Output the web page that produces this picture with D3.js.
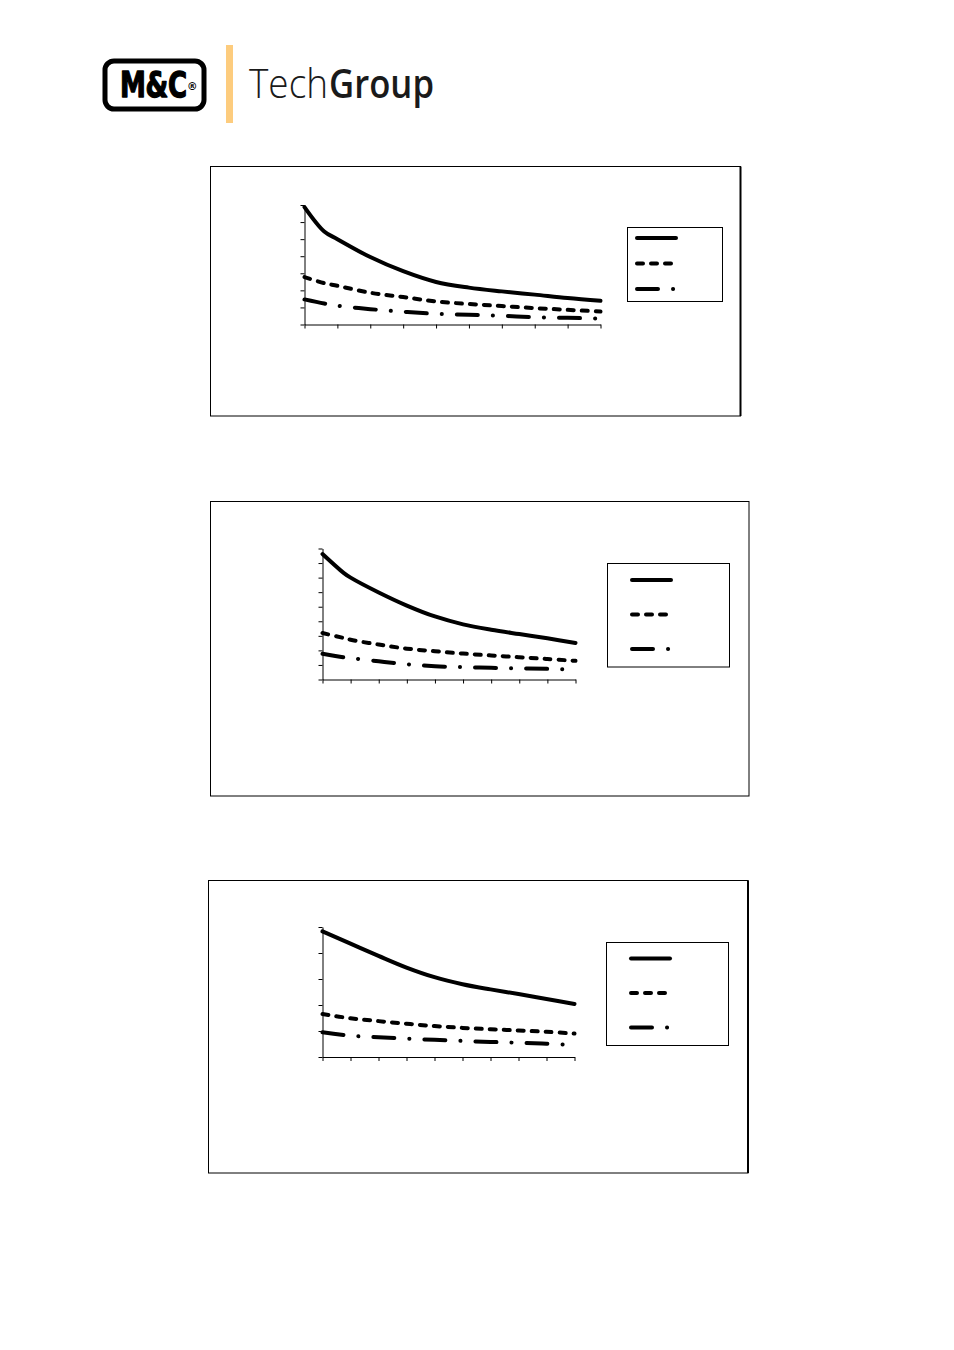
<!DOCTYPE html>
<html>
<head>
<meta charset="utf-8">
<script src="https://cdn.jsdelivr.net/npm/d3@7/dist/d3.min.js"></script>
<style>
  html, body { margin: 0; padding: 0; background: #fff; }
  svg { display: block; }
</style>
</head>
<body>
<div id="page"></div>
<script>
// ---------------- DATA ----------------
// Chart 1 (x positions on the category axis, 0..9 = tick marks)
const xValues1 = [0, 0.6, 1, 2, 3, 4, 5, 6, 7, 8, 9];
const solid1   = [6.88, 5.45, 5.00, 3.95, 3.12, 2.49, 2.16, 1.94, 1.75, 1.55, 1.39];
const dashed1  = [2.78, 2.42, 2.27, 1.86, 1.61, 1.35, 1.20, 1.08, 0.96, 0.86, 0.76];
const dashdot1 = [1.47, 1.23, 1.10, 0.90, 0.75, 0.63, 0.57, 0.51, 0.43, 0.39, 0.35];
const yTicks1  = [0, 1, 2, 3, 4, 5, 6, 7];

// Chart 2
const xValues2 = [0, 0.75, 1, 2, 3, 4, 5, 6, 7, 8, 9];
const solid2   = [8.62, 7.33, 7.00, 5.98, 5.08, 4.33, 3.79, 3.42, 3.12, 2.83, 2.51];
const dashed2  = [3.19, 2.85, 2.73, 2.40, 2.12, 1.94, 1.78, 1.65, 1.53, 1.41, 1.28];
const dashdot2 = [1.77, 1.52, 1.47, 1.25, 1.05, 0.91, 0.85, 0.80, 0.76, 0.73, 0.67];
const yTicks2  = [0, 1, 2, 3, 4, 5, 6, 7, 8, 9];

// Chart 3
const xValues3 = [0, 1, 2, 3, 4, 5, 6, 7, 8, 9];
const solid3   = [4.83, 4.36, 3.89, 3.44, 3.07, 2.80, 2.60, 2.42, 2.23, 2.04];
const dashed3  = [1.65, 1.49, 1.38, 1.28, 1.19, 1.12, 1.07, 1.02, 0.97, 0.90];
const dashdot3 = [0.95, 0.82, 0.76, 0.71, 0.66, 0.62, 0.58, 0.55, 0.51, 0.46];
const yTicks3  = [0, 1, 2, 3, 4, 5];

const xTicks = [0, 1, 2, 3, 4, 5, 6, 7, 8, 9];

// Logo texts
const logoMark = "M&C";
const logoReg = "®";
const brandLight = "Tech";
const brandBold = "Group";

// ---------------- STYLES / LAYOUT ----------------
const lineStyles = [
  { dash: null, cap: "round" },
  { dash: "6,8", cap: "round" },
  { dash: "21,15,0.1,15", cap: "round" }
];

const layouts = [
  { frame: {x: 210.5, y: 166.5, w: 530, h: 249.5}, rightBorder: 2,
    plot: {l: 304.5, t: 205, r: 600.5, b: 324.5},
    legend: {x: 627.5, y: 227.5, w: 95, h: 74, lx: 637, rows: [238, 263.5, 289], lens: [39, 34, 37]} },
  { frame: {x: 210.5, y: 501.5, w: 538.5, h: 294.5}, rightBorder: 1,
    plot: {l: 322.5, t: 548.5, r: 575.5, b: 679.5},
    legend: {x: 607.5, y: 563.5, w: 122, h: 103.5, lx: 632, rows: [580, 614.5, 649], lens: [39, 34, 37]} },
  { frame: {x: 208.5, y: 880.5, w: 539.5, h: 292.5}, rightBorder: 2,
    plot: {l: 322.5, t: 927, r: 574.5, b: 1057},
    legend: {x: 606.5, y: 942.5, w: 122, h: 103, lx: 631, rows: [958.5, 993, 1027.5], lens: [39, 34, 37]} }
];

const charts = [
  { x: xValues1, series: [solid1, dashed1, dashdot1], yTicks: yTicks1 },
  { x: xValues2, series: [solid2, dashed2, dashdot2], yTicks: yTicks2 },
  { x: xValues3, series: [solid3, dashed3, dashdot3], yTicks: yTicks3 }
];

// ---------------- DRAW ----------------
const svg = d3.select("#page").append("svg")
  .attr("width", 954).attr("height", 1350)
  .attr("viewBox", "0 0 954 1350");

svg.append("rect").attr("width", 954).attr("height", 1350).attr("fill", "#fff");

// Logo
const logo = svg.append("g");
logo.append("rect")
  .attr("x", 105).attr("y", 61).attr("width", 99).attr("height", 48)
  .attr("rx", 9).attr("ry", 9)
  .attr("fill", "#fff").attr("stroke", "#000").attr("stroke-width", 5);
logo.append("text")
  .attr("transform", "translate(120,97) scale(1,1.35)")
  .attr("font-family", "DejaVu Sans").attr("font-weight", "bold")
  .attr("fill", "#000")
  .attr("font-size", 26)
  .attr("letter-spacing", -0.3)
  .attr("stroke", "#000").attr("stroke-width", 1).attr("stroke-linejoin", "round")
  .text(logoMark);
logo.append("text")
  .attr("x", 187).attr("y", 90)
  .attr("font-family", "DejaVu Sans").attr("font-weight", "bold")
  .attr("font-size", 10.5).attr("fill", "#000")
  .text(logoReg);
logo.append("rect")
  .attr("x", 226).attr("y", 45).attr("width", 7).attr("height", 78)
  .attr("fill", "#FDCC7E");
const brand = logo.append("text")
  .attr("x", 249).attr("y", 98)
  .attr("font-family", "Open Sans")
  .attr("font-size", 40).attr("fill", "#1a1a1a");
brand.append("tspan")
  .attr("font-weight", 300)
  .attr("textLength", 79).attr("lengthAdjust", "spacingAndGlyphs")
  .text(brandLight);
brand.append("tspan")
  .attr("x", 329)
  .attr("font-weight", 600)
  .attr("textLength", 105).attr("lengthAdjust", "spacingAndGlyphs")
  .text(brandBold);

charts.forEach((c, i) => {
  const L = layouts[i];
  const g = svg.append("g");

  // frame
  g.append("rect")
    .attr("x", L.frame.x).attr("y", L.frame.y)
    .attr("width", L.frame.w).attr("height", L.frame.h)
    .attr("fill", "#fff").attr("stroke", "#000").attr("stroke-width", 1);
  if (L.rightBorder > 1) {
    g.append("line")
      .attr("x1", L.frame.x + L.frame.w).attr("x2", L.frame.x + L.frame.w)
      .attr("y1", L.frame.y).attr("y2", L.frame.y + L.frame.h)
      .attr("stroke", "#000").attr("stroke-width", L.rightBorder);
  }

  const x = d3.scaleLinear().domain([0, 9]).range([L.plot.l, L.plot.r]);
  const yMax = c.yTicks[c.yTicks.length - 1];
  const y = d3.scaleLinear().domain([0, yMax]).range([L.plot.b, L.plot.t]);

  // axes
  const yAxis = d3.axisLeft(y).tickValues(c.yTicks).tickFormat("").tickSize(4).tickSizeOuter(0);
  const xAxis = d3.axisBottom(x).tickValues(xTicks).tickFormat("").tickSize(4).tickSizeOuter(0);
  const ya = g.append("g").attr("transform", `translate(${L.plot.l},0)`).call(yAxis);
  const xa = g.append("g").attr("transform", `translate(0,${L.plot.b})`).call(xAxis);
  [ya, xa].forEach(a => {
    a.selectAll("path").attr("stroke", "#000").attr("stroke-width", 1);
    a.selectAll("line").attr("stroke", "#000").attr("stroke-width", 1);
  });

  // lines
  const line = d3.line()
    .x(d => x(d[0])).y(d => y(d[1]))
    .curve(d3.curveCatmullRom.alpha(0.5));

  c.series.forEach((s, k) => {
    const pts = c.x.map((xv, j) => [xv, s[j]]);
    const p = g.append("path")
      .attr("d", line(pts))
      .attr("fill", "none").attr("stroke", "#000")
      .attr("stroke-width", 4).attr("stroke-linejoin", "round")
      .attr("stroke-linecap", lineStyles[k].cap);
    if (lineStyles[k].dash) p.attr("stroke-dasharray", lineStyles[k].dash);
  });

  // legend
  g.append("rect")
    .attr("x", L.legend.x).attr("y", L.legend.y)
    .attr("width", L.legend.w).attr("height", L.legend.h)
    .attr("fill", "#fff").attr("stroke", "#000").attr("stroke-width", 1);
  L.legend.rows.forEach((ry, k) => {
    const p = g.append("line")
      .attr("x1", L.legend.lx).attr("x2", L.legend.lx + L.legend.lens[k])
      .attr("y1", ry).attr("y2", ry)
      .attr("stroke", "#000").attr("stroke-width", 4)
      .attr("stroke-linecap", lineStyles[k].cap);
    if (lineStyles[k].dash) p.attr("stroke-dasharray", lineStyles[k].dash);
  });
});
</script>
</body>
</html>
